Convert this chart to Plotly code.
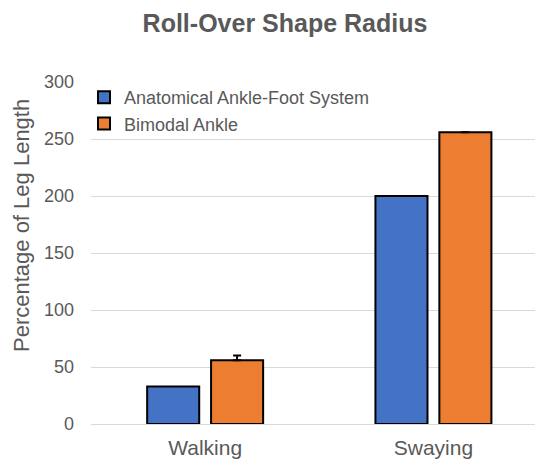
import plotly.graph_objects as go

categories = ["Walking", "Swaying"]
series_names = ["Anatomical Ankle-Foot System", "Bimodal Ankle"]
anatomical = [33, 200]
bimodal = [56, 256]
bimodal_err = [4, 0]
y_ticks = [0, 50, 100, 150, 200, 250, 300]

OFF = 8  # page body margin
W, H = 543 - OFF, 462 - OFF
L, R, T, B = 91 - OFF, 0, 82 - OFF, 38
pw, ph = W - L - R, H - T - B


def px(xr):
    return (xr - OFF - L) / pw


def py(yr):
    return (H - B - (yr - OFF)) / ph


fig = go.Figure()
fig.add_trace(go.Bar(
    x=categories, y=anatomical, name=series_names[0],
    marker=dict(color="#4472C4", line=dict(color="black", width=2)),
    width=0.228, offset=-0.254,
))
fig.add_trace(go.Bar(
    x=categories, y=bimodal, name=series_names[1],
    marker=dict(color="#ED7D31", line=dict(color="black", width=2)),
    width=0.228, offset=0.026,
    error_y=dict(type="data", symmetric=False, array=bimodal_err,
                 arrayminus=[0, 0], color="black", thickness=2, width=4),
))

fig.update_layout(
    width=W, height=H,
    margin=dict(l=L, r=R, t=T, b=B, autoexpand=False),
    paper_bgcolor="white", plot_bgcolor="white",
    font=dict(family="Liberation Sans, Arial, sans-serif", color="#595959"),
    title=dict(text="<b>Roll-Over Shape Radius</b>", x=(285 - OFF) / W, xanchor="center",
               y=1 - (23 - OFF) / H, yanchor="middle",
               font=dict(size=25, color="#595959")),
    barmode="group",
    showlegend=True,
    legend=dict(x=px(84), y=py(79), xanchor="left", yanchor="top",
                bgcolor="rgba(0,0,0,0)", font=dict(size=18, color="#595959"),
                itemsizing="constant", tracegroupgap=0),
    xaxis=dict(range=[-0.5, 1.48], showgrid=False, showline=True,
               linecolor="#d9d9d9", linewidth=1, ticks="",
               tickfont=dict(size=21, color="#595959"), ticklabelstandoff=5),
    yaxis=dict(range=[0, 300], tickvals=y_ticks, showgrid=True,
               gridcolor="#d9d9d9", gridwidth=1, zeroline=False, showline=False,
               ticks="", tickfont=dict(size=18, color="#595959"),
               ticklabelstandoff=16),
    annotations=[dict(text="Percentage of Leg Length", textangle=-90,
                      xref="paper", yref="paper",
                      x=px(21), y=py(226),
                      xanchor="center", yanchor="middle", showarrow=False,
                      font=dict(size=22, color="#595959"))],
)

fig.write_html("out.html")
